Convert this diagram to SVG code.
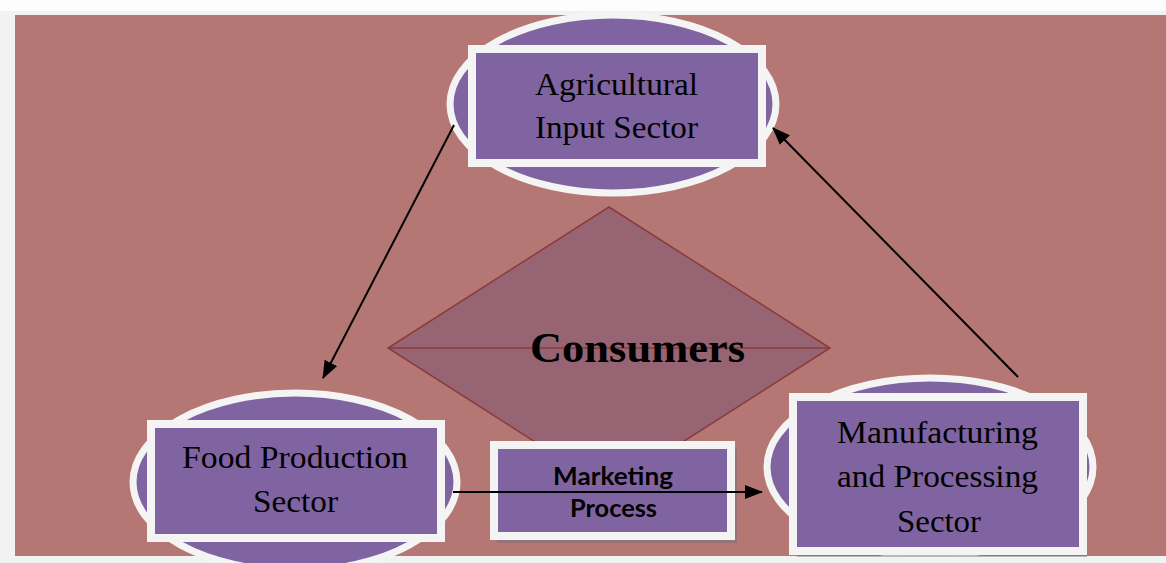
<svg xmlns="http://www.w3.org/2000/svg" width="1166" height="563" viewBox="0 0 1166 563">
  <defs>
    <style>
      .oval { fill: #8064a2; stroke: #f4f4f4; stroke-width: 7; }
      .box { fill: #8064a2; stroke: #f4f4f4; stroke-width: 8; }
      .shadow { fill: #6f6f7a; opacity: 0.45; }
      .lbl { font-family: "Liberation Serif", "Times New Roman", serif; font-size: 31px; fill: #000; text-anchor: middle; }
      .lbl2 { font-family: Lato, "Liberation Sans", sans-serif; font-weight: bold; font-size: 24px; fill: #000; text-anchor: middle; }
      .hub { font-family: "Liberation Serif", "Times New Roman", serif; font-weight: bold; font-size: 43px; fill: #000; text-anchor: middle; }
      .link { stroke: #000; stroke-width: 2; fill: none; marker-end: url(#head); }
    </style>
    <marker id="head" viewBox="0 0 18 14" refX="17" refY="7" markerWidth="18" markerHeight="14" markerUnits="userSpaceOnUse" orient="auto">
      <path d="M0,0 L18,7 L0,14 Z" fill="#000"/>
    </marker>
  </defs>

  <!-- page and panel -->
  <rect x="0" y="0" width="1166" height="563" fill="#f2f2f2"/>
  <rect x="0" y="0" width="1166" height="11" fill="#fdfdfd"/>
  <rect x="15" y="15" width="1151" height="541" fill="#b57773"/>

  <!-- centre hub -->
  <g id="consumers">
    <polygon points="609,207 830,348 609,489 388,348" fill="#966473" stroke="#8a3b3b" stroke-width="1.5"/>
    <line x1="388" y1="348" x2="830" y2="348" stroke="#8a3b3b" stroke-width="1.5"/>
    <text class="hub" x="637.5" y="362" textLength="215" lengthAdjust="spacingAndGlyphs">Consumers</text>
  </g>

  <g id="agricultural-input">
    <ellipse class="oval" cx="613" cy="104" rx="163" ry="89"/>
    <rect class="box" x="472" y="49" width="290" height="114"/>
    <text class="lbl" x="616.5" y="95" textLength="163" lengthAdjust="spacingAndGlyphs">Agricultural</text>
    <text class="lbl" x="616.5" y="138" textLength="163" lengthAdjust="spacingAndGlyphs">Input Sector</text>
  </g>

  <g id="food-production">
    <ellipse class="oval" cx="295" cy="482" rx="162" ry="89"/>
    <rect class="box" x="151" y="424" width="290" height="114"/>
    <text class="lbl" x="295" y="468" textLength="226" lengthAdjust="spacingAndGlyphs">Food Production</text>
    <text class="lbl" x="295.5" y="512" textLength="85" lengthAdjust="spacingAndGlyphs">Sector</text>
  </g>

  <g id="manufacturing-processing">
    <ellipse class="oval" cx="930" cy="467" rx="163" ry="89"/>
    <rect class="shadow" x="797" y="401" width="290" height="156"/>
    <rect class="box" x="793" y="397" width="290" height="154"/>
    <text class="lbl" x="937.5" y="443" textLength="201" lengthAdjust="spacingAndGlyphs">Manufacturing</text>
    <text class="lbl" x="937.5" y="487" textLength="201" lengthAdjust="spacingAndGlyphs">and Processing</text>
    <text class="lbl" x="939" y="532" textLength="84" lengthAdjust="spacingAndGlyphs">Sector</text>
  </g>

  <g id="marketing-process">
    <rect class="shadow" x="497" y="449" width="240" height="94"/>
    <rect class="box" x="494" y="445" width="237" height="91"/>
    <text class="lbl2" x="613" y="485" textLength="120" lengthAdjust="spacingAndGlyphs">Marketing</text>
    <text class="lbl2" x="613.5" y="517" textLength="87" lengthAdjust="spacingAndGlyphs">Process</text>
  </g>

  <!-- flows between sectors -->
  <g id="connectors">
    <line class="link" x1="454" y1="125" x2="323" y2="378"/>
    <line class="link" x1="1018" y1="377" x2="773" y2="128"/>
    <line class="link" x1="453" y1="492" x2="762" y2="492"/>
  </g>
</svg>
